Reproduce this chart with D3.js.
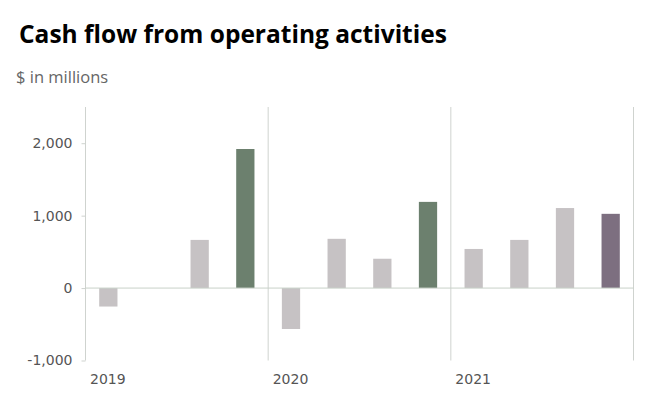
<!DOCTYPE html>
<html><head><meta charset="utf-8">
<script src="https://cdn.jsdelivr.net/npm/d3@7"></script>
<style>
html,body{margin:0;padding:0;background:#fff;}
svg{display:block;}
</style></head>
<body>
<svg id="chart" width="667" height="408"></svg>
<script>
const years = ["2019", "2020", "2021"];
const quarters = ["Q1", "Q2", "Q3", "Q4"];
const values = [
  -255, 0, 665, 1920,
  -565, 680, 405, 1190,
  540, 665, 1105, 1025
];
const yTicks = [-1000, 0, 1000, 2000];
const yDomain = [-1000, 2500];

const barColors = ["#c6c2c4", "#c6c2c4", "#c6c2c4", "#6c806e",
                   "#c6c2c4", "#c6c2c4", "#c6c2c4", "#6c806e",
                   "#c6c2c4", "#c6c2c4", "#c6c2c4", "#7d6f80"];

(function(){
const svg = d3.select("#chart");
const mLeft = 85.5, mRight = 633.5, mTop = 107, mBottom = 360.5;

const cats = [];
years.forEach(y => quarters.forEach(q => cats.push(y + " " + q)));
const data = cats.map((c, i) => ({cat: c, value: values[i], i}));

const x = d3.scaleBand().domain(cats).range([mLeft, mRight]).paddingInner(0.6).paddingOuter(0.3);
const xYear = d3.scaleBand().domain(years).range([mLeft, mRight]);
const y = d3.scaleLinear().domain(yDomain).range([mBottom, mTop]);

// title
svg.append("text").attr("x", 19).attr("y", 43)
  .attr("font-family", "Open Sans").attr("font-weight", 700).attr("font-size", 24.5)
  .attr("fill", "#000").text("Cash flow from operating activities");
svg.append("text").attr("x", 16).attr("y", 83)
  .attr("font-family", "Open Sans").attr("font-size", 16.5)
  .attr("fill", "#666").text("$ in millions");

// year separators
svg.append("g").selectAll("line").data(years.slice(1).concat(["end"]))
  .join("line")
  .attr("x1", d => d === "end" ? mRight : xYear(d))
  .attr("x2", d => d === "end" ? mRight : xYear(d))
  .attr("y1", mTop).attr("y2", mBottom)
  .attr("stroke", "#cfd3cf").attr("stroke-width", 1);

// y axis
const yAxis = d3.axisLeft(y).tickValues(yTicks).tickSize(4).tickPadding(9)
  .tickFormat(d => d3.format(",")(d).replace("\u2212", "-"));
const gy = svg.append("g").attr("transform", `translate(${mLeft},0)`).call(yAxis);
gy.select(".domain").remove();
gy.selectAll(".tick line").attr("stroke", "#cfd3cf");
gy.selectAll(".tick text").attr("font-family", "DejaVu Sans").attr("font-size", 14).attr("fill", "#555");
svg.append("line").attr("x1", mLeft).attr("x2", mLeft).attr("y1", mTop).attr("y2", mBottom)
  .attr("stroke", "#cfd3cf");

// bars
svg.append("g").selectAll("rect").data(data).join("rect")
  .attr("x", d => x(d.cat))
  .attr("width", x.bandwidth())
  .attr("y", d => y(Math.max(0, d.value)))
  .attr("height", d => Math.abs(y(d.value) - y(0)))
  .attr("fill", d => barColors[d.i]);

// zero line
svg.append("line").attr("x1", mLeft).attr("x2", mRight).attr("y1", y(0)).attr("y2", y(0))
  .attr("stroke", "#c9d1c9").attr("stroke-width", 1);

// year labels
svg.append("g").selectAll("text").data(years).join("text")
  .attr("x", d => xYear(d) + 4.5).attr("y", 384)
  .attr("font-family", "DejaVu Sans").attr("font-size", 14).attr("fill", "#555")
  .text(d => d);
})();
</script>
</body></html>
